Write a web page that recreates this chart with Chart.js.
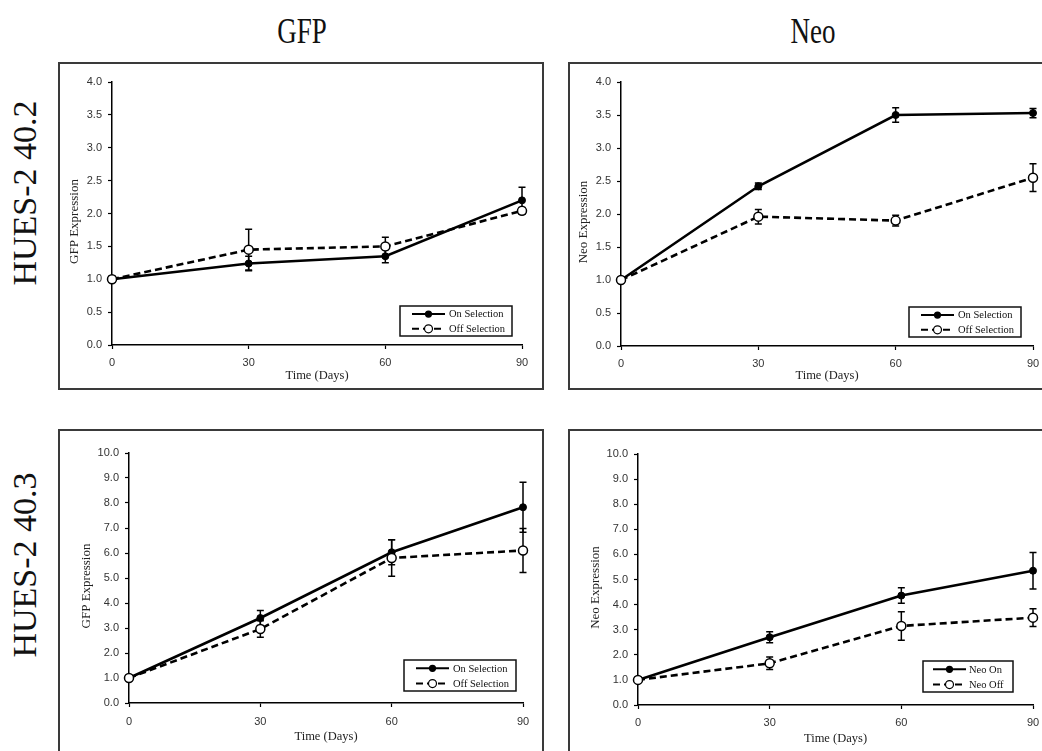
<!DOCTYPE html>
<html>
<head>
<meta charset="utf-8">
<script src="https://cdn.jsdelivr.net/npm/chart.js@4/dist/chart.umd.min.js"></script>
<style>
  html, body { margin: 0; padding: 0; background: #fff; }
  body { width: 1042px; height: 751px; overflow: hidden; position: relative; }
  canvas { position: absolute; }
  .colTitle, .rowTitle {
    position: absolute; white-space: nowrap; line-height: 1; color: #111;
    font-family: "Liberation Serif", "Times New Roman", serif;
  }
  .colTitle { font-size: 36px; transform: translate(-50%, -50%) scaleX(0.75); }
  .rowTitle { font-size: 34px; transform: translate(-50%, -50%) rotate(-90deg); }
</style>
</head>
<body>
<div class="colTitle" style="left:302px; top:31px;">GFP</div>
<div class="colTitle" style="left:813px; top:31px;">Neo</div>
<div class="rowTitle" style="left:25px; top:193px;">HUES-2 40.2</div>
<div class="rowTitle" style="left:25px; top:565px;">HUES-2 40.3</div>

<script>
// Sampling days (x axis)
const days = [0, 30, 60, 90];

// Y axis ranges: [min, max, step]
const yRange402 = [0, 4, 0.5];
const yRange403 = [0, 10, 1];

// HUES-2 40.2 — GFP expression (mean and error)
const gfp402On     = [1.00, 1.24, 1.35, 2.20];
const gfp402OnErr  = [0.04, 0.11, 0.10, 0.20];
const gfp402Off    = [1.00, 1.45, 1.50, 2.04];
const gfp402OffErr = [0.04, 0.31, 0.14, 0.05];

// HUES-2 40.2 — Neo expression
const neo402On     = [1.00, 2.42, 3.50, 3.53];
const neo402OnErr  = [0.02, 0.05, 0.11, 0.07];
const neo402Off    = [1.00, 1.96, 1.90, 2.55];
const neo402OffErr = [0.02, 0.11, 0.08, 0.21];

// HUES-2 40.3 — GFP expression
const gfp403On     = [1.00, 3.40, 6.03, 7.83];
const gfp403OnErr  = [0.05, 0.30, 0.50, 1.00];
const gfp403Off    = [1.00, 2.96, 5.80, 6.10];
const gfp403OffErr = [0.05, 0.33, 0.73, 0.88];

// HUES-2 40.3 — Neo expression
const neo403On     = [1.00, 2.70, 4.36, 5.35];
const neo403OnErr  = [0.05, 0.22, 0.31, 0.73];
const neo403Off    = [1.00, 1.66, 3.15, 3.48];
const neo403OffErr = [0.05, 0.25, 0.57, 0.35];

// Legend and axis texts
const selectionLabels = ['On Selection', 'Off Selection'];
const neoLabels = ['Neo On', 'Neo Off'];
const xTitle = 'Time (Days)';

const SERIF = '"Liberation Serif", "Times New Roman", serif';
const SANS = '"Liberation Sans", Arial, sans-serif';

// Vertical error bars with caps, drawn under the markers
const errorBars = {
  id: 'errorBars',
  beforeDatasetsDraw(chart) {
    const ctx = chart.ctx;
    const xs = chart.scales.x, ys = chart.scales.y;
    ctx.save();
    ctx.strokeStyle = '#000';
    ctx.lineWidth = 1.5;
    chart.data.datasets.forEach(ds => {
      ds.data.forEach((p, i) => {
        const e = ds.err[i];
        const x = xs.getPixelForValue(p.x);
        const y1 = ys.getPixelForValue(p.y + e);
        const y2 = ys.getPixelForValue(p.y - e);
        ctx.beginPath();
        ctx.moveTo(x, y1); ctx.lineTo(x, y2);
        ctx.moveTo(x - 3.5, y1); ctx.lineTo(x + 3.5, y1);
        ctx.moveTo(x - 3.5, y2); ctx.lineTo(x + 3.5, y2);
        ctx.stroke();
      });
    });
    ctx.restore();
  }
};

// Panel frame around each chart
const frame = {
  id: 'frame',
  beforeDraw(chart) {
    const ctx = chart.ctx;
    ctx.save();
    ctx.fillStyle = '#fff';
    ctx.fillRect(0, 0, chart.width, chart.height);
    ctx.strokeStyle = '#3a3a3a';
    ctx.lineWidth = 2;
    ctx.strokeRect(1, 1, chart.width - 2, chart.height - 2);
    ctx.restore();
  }
};

// Rotated y-axis title, sitting a little below the plot's midline
const yTitle = {
  id: 'yTitle',
  afterDraw(chart, args, opts) {
    const ctx = chart.ctx;
    const a = chart.chartArea;
    ctx.save();
    ctx.translate(opts.x, (a.top + a.bottom) / 2 + opts.dy);
    ctx.rotate(-Math.PI / 2);
    ctx.fillStyle = '#222';
    ctx.font = '13px ' + SERIF;
    ctx.textAlign = 'center';
    ctx.textBaseline = 'middle';
    ctx.fillText(opts.text, 0, 0);
    ctx.restore();
  }
};

// Boxed legend with line + marker samples
const boxLegend = {
  id: 'boxLegend',
  afterDraw(chart, args, opts) {
    const ctx = chart.ctx;
    const a = chart.chartArea;
    const bx = a.right - opts.offR - opts.w;
    const by = a.bottom - opts.offB - opts.h;
    ctx.save();
    ctx.fillStyle = '#fff';
    ctx.fillRect(bx, by, opts.w, opts.h);
    ctx.strokeStyle = '#111';
    ctx.lineWidth = 1.5;
    ctx.strokeRect(bx, by, opts.w, opts.h);
    const rows = [by + opts.h * 0.27, by + opts.h * 0.76];
    chart.data.datasets.forEach((ds, i) => {
      const y = rows[i];
      const x1 = bx + opts.lineStart, x2 = bx + opts.lineEnd;
      ctx.strokeStyle = '#000';
      ctx.lineWidth = 2;
      ctx.setLineDash(ds.borderDash || []);
      ctx.beginPath(); ctx.moveTo(x1, y); ctx.lineTo(x2, y); ctx.stroke();
      ctx.setLineDash([]);
      const cx = (x1 + x2) / 2;
      ctx.beginPath();
      ctx.arc(cx, y, ds.pointRadius - 0.5, 0, Math.PI * 2);
      ctx.fillStyle = ds.pointBackgroundColor;
      ctx.fill();
      ctx.lineWidth = 1.2;
      ctx.stroke();
      ctx.fillStyle = '#111';
      ctx.font = '10.5px ' + SERIF;
      ctx.textBaseline = 'middle';
      ctx.fillText(ds.label, bx + opts.textX, y + 0.5);
    });
    ctx.restore();
  }
};

function makePanel(cfg) {
  const cv = document.createElement('canvas');
  cv.width = cfg.w; cv.height = cfg.h;
  cv.style.left = cfg.x + 'px'; cv.style.top = cfg.y + 'px';
  cv.style.width = cfg.w + 'px'; cv.style.height = cfg.h + 'px';
  document.body.appendChild(cv);

  const pts = arr => days.map((d, i) => ({ x: d, y: arr[i] }));

  new Chart(cv, {
    type: 'line',
    data: {
      datasets: [
        {
          label: cfg.labels[0], data: pts(cfg.on), err: cfg.onErr,
          borderColor: '#000', borderWidth: 2.6, tension: 0, clip: false,
          pointRadius: 3.5, pointBackgroundColor: '#000', pointBorderColor: '#000',
          pointBorderWidth: 1, order: 2
        },
        {
          label: cfg.labels[1], data: pts(cfg.off), err: cfg.offErr,
          borderColor: '#000', borderWidth: 2.6, borderDash: [7, 4], tension: 0, clip: false,
          pointRadius: 4.5, pointBackgroundColor: '#fff', pointBorderColor: '#000',
          pointBorderWidth: 1.5, order: 1
        }
      ]
    },
    options: {
      responsive: false, animation: false, devicePixelRatio: 1,
      events: [],
      layout: { padding: cfg.pad },
      plugins: {
        legend: { display: false },
        tooltip: { enabled: false },
        boxLegend: cfg.legend,
        yTitle: { text: cfg.yTitle, x: cfg.yTitleX, dy: 8 }
      },
      scales: {
        x: {
          type: 'linear', min: 0, max: 90,
          ticks: {
            stepSize: 30, color: '#333', padding: cfg.xTickPad,
            font: { family: SANS, size: 11 },
            maxRotation: 0
          },
          grid: { drawOnChartArea: false, drawTicks: true, tickLength: 4, tickColor: '#000', tickWidth: 1.2 },
          border: { display: true, color: '#000', width: 1.5 },
          title: {
            display: true, text: xTitle, color: '#222',
            font: { family: SERIF, size: 12.5, lineHeight: 1.2 },
            padding: { top: 0, bottom: cfg.xTitlePad }
          },
          afterFit(s) { s.height = cfg.xAxisH; s.paddingLeft = 0; s.paddingRight = 0; }
        },
        y: {
          type: 'linear', min: cfg.yRange[0], max: cfg.yRange[1],
          ticks: {
            stepSize: cfg.yRange[2], color: '#333', padding: 6,
            font: { family: SANS, size: 11 },
            callback: v => Number(v).toFixed(1)
          },
          grid: { drawOnChartArea: false, drawTicks: true, tickLength: 4, tickColor: '#000', tickWidth: 1.2 },
          border: { display: true, color: '#000', width: 1.5 },
          afterFit(s) { s.width = cfg.yAxisW; s.paddingTop = 0; s.paddingBottom = 0; }
        }
      }
    },
    plugins: [frame, errorBars, yTitle, boxLegend]
  });
}

// Top-left: HUES-2 40.2, GFP
makePanel({
  x: 58, y: 62, w: 486, h: 328,
  pad: { left: 4, right: 22, top: 20, bottom: 5 },
  yAxisW: 50, xAxisH: 40, xTickPad: 7, xTitlePad: 1.5, yTitleX: 17,
  yRange: yRange402, yTitle: 'GFP Expression', labels: selectionLabels,
  on: gfp402On, onErr: gfp402OnErr, off: gfp402Off, offErr: gfp402OffErr,
  legend: { w: 112, h: 30, offR: 10, offB: 9, lineStart: 12, lineEnd: 45, textX: 49 }
});

// Top-right: HUES-2 40.2, Neo
makePanel({
  x: 568, y: 62, w: 480, h: 328,
  pad: { left: 3, right: 15, top: 20, bottom: 4 },
  yAxisW: 50, xAxisH: 40, xTickPad: 7, xTitlePad: 2.5, yTitleX: 16,
  yRange: yRange402, yTitle: 'Neo Expression', labels: selectionLabels,
  on: neo402On, onErr: neo402OnErr, off: neo402Off, offErr: neo402OffErr,
  legend: { w: 112, h: 30, offR: 12, offB: 9, lineStart: 12, lineEnd: 45, textX: 49 }
});

// Bottom-left: HUES-2 40.3, GFP
makePanel({
  x: 58, y: 429, w: 486, h: 340,
  pad: { left: 11, right: 21, top: 24, bottom: 21 },
  yAxisW: 60, xAxisH: 45, xTickPad: 8, xTitlePad: 3.5, yTitleX: 29,
  yRange: yRange403, yTitle: 'GFP Expression', labels: selectionLabels,
  on: gfp403On, onErr: gfp403OnErr, off: gfp403Off, offErr: gfp403OffErr,
  legend: { w: 112, h: 31, offR: 7, offB: 12, lineStart: 12, lineEnd: 45, textX: 49 }
});

// Bottom-right: HUES-2 40.3, Neo
makePanel({
  x: 568, y: 429, w: 480, h: 340,
  pad: { left: 10, right: 15, top: 25, bottom: 19 },
  yAxisW: 60, xAxisH: 45, xTickPad: 7.5, xTitlePad: 3.5, yTitleX: 28,
  yRange: yRange403, yTitle: 'Neo Expression', labels: neoLabels,
  on: neo403On, onErr: neo403OnErr, off: neo403Off, offErr: neo403OffErr,
  legend: { w: 90, h: 31, offR: 20, offB: 13, lineStart: 10, lineEnd: 43, textX: 46 }
});
</script>
</body>
</html>
